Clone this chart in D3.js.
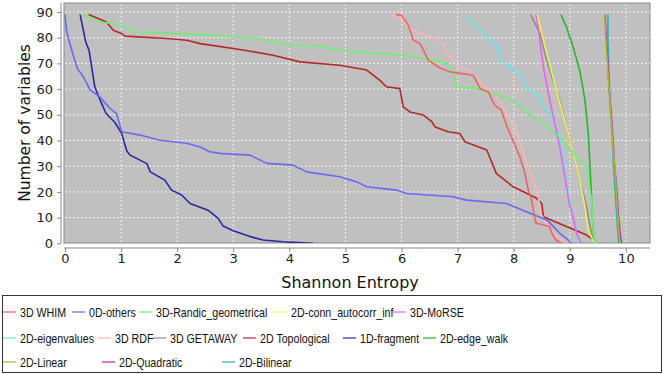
<!DOCTYPE html>
<html><head><meta charset="utf-8">
<script src="https://cdn.jsdelivr.net/npm/d3@7"></script>
<style>html,body{margin:0;padding:0;background:#fff;}svg{display:block;}</style>
</head><body><svg id="c" width="664" height="374"></svg>
<script>
// ---- data ----
const seriesNames = ["3D WHIM","0D-others","3D-Randic_geometrical","2D-conn_autocorr_inf","3D-MoRSE",
  "2D-eigenvalues","3D RDF","3D GETAWAY","2D Topological","1D-fragment","2D-edge_walk",
  "2D-Linear","2D-Quadratic","2D-Bilinear"];
const seriesColors = ["#f06262","#6a6af0","#70ee70","#f0f050","#f060f0","#60eaea","#ffb4b4","#8c8c8c",
  "#b42828","#2828a0","#28b428","#b4b428","#b428b4","#28b4b4"];
const xTicks = [0,1,2,3,4,5,6,7,8,9,10];
const yTicks = [0,10,20,30,40,50,60,70,80,90];

const whim3D = [[5.9,89],[6.0,88.7],[6.12,84.8],[6.21,79],[6.33,77.7],[6.48,71.2],[6.68,68.3],[6.86,66.7],[7.28,65.4],[7.4,60.2],[7.55,58.9],[7.66,53.7],[7.78,51.8],[7.87,46],[7.96,41.4],[8.11,33.7],[8.2,27.2],[8.26,20.7],[8.32,16.8],[8.37,10.3],[8.4,7.8],[8.64,6.5],[8.68,3.9],[8.75,1.3],[8.85,0]];
const others0D = [[0,89],[0.03,82.2],[0.12,75.1],[0.22,68],[0.33,64.7],[0.45,59.6],[0.62,57],[0.8,52.5],[0.92,50.5],[1.01,43.4],[1.34,42.1],[1.69,40.1],[2.17,38.9],[2.41,37.5],[2.58,35.6],[2.76,35],[3.3,34.3],[3.6,31.1],[4.07,30.4],[4.31,27.8],[4.9,25.9],[5.2,23.9],[5.38,22],[5.91,20.7],[6.09,19.4],[6.92,18.1],[7.16,16.8],[7.87,15.5],[8.29,11.7],[8.59,9.1],[8.71,6.5],[8.82,3.9],[8.97,1.3],[9.03,0]];
const randic3D = [[0.33,89],[0.62,86.1],[0.86,85.5],[1.1,84],[1.22,82.3],[1.99,81.6],[2.64,81],[3.0,80.3],[3.48,79.7],[3.71,78],[4.01,77.3],[4.49,76.7],[4.9,75.3],[5.08,74.5],[6.09,73.2],[6.51,71.5],[6.8,70],[6.92,66.7],[6.98,60.9],[7.34,60.2],[7.58,58.3],[7.99,55.7],[8.29,49.9],[8.59,45.3],[8.82,41.4],[9.12,33.7],[9.3,29.8],[9.32,25.9],[9.39,16.8],[9.42,3.9],[9.45,0]];
const connAutocorr2D = [[8.42,89],[8.5,81.6],[8.59,73.8],[8.7,64.7],[8.79,57],[8.94,45.3],[9.06,35],[9.18,24.6],[9.27,14.2],[9.33,5.2],[9.42,0.6],[9.48,0]];
const morse3D = [[8.4,89],[8.45,82],[8.47,78],[8.53,68.6],[8.62,58],[8.72,47.9],[8.82,37.5],[8.92,25],[8.99,15.5],[9.06,10.3],[9.12,3.9],[9.2,0]];
const eigen2D = [[7.13,89],[7.28,85.5],[7.52,80.3],[7.72,76.4],[7.75,71.2],[7.93,68.6],[8.14,65.4],[8.23,60.2],[8.41,58.3],[8.5,54.4],[8.64,50.5],[8.82,41.4],[8.88,33.7],[8.94,24.6],[9.0,16.8],[9.06,10.3],[9.12,3.9],[9.16,0]];
const rdf3D = [[5.85,88.7],[5.97,88],[6.15,83.6],[6.33,81.6],[6.56,80.3],[6.74,77.7],[6.8,74.5],[6.89,71.9],[7.01,68.6],[7.22,67.4],[7.37,63.5],[7.58,58.9],[7.75,55.7],[7.87,50.5],[8.02,45.3],[8.14,37.5],[8.26,29.8],[8.35,24.6],[8.41,20.7],[8.44,18.1],[8.47,12],[8.6,7],[8.75,3],[8.95,0]];
const getaway3D = [[8.3,89],[8.47,81.6],[8.59,71.2],[8.7,63.5],[8.82,55.7],[8.94,45.3],[9.03,37.5],[9.18,24.6],[9.3,14.2],[9.36,6.5],[9.42,1.3],[9.48,0]];
const topological2D = [[0.42,89],[0.74,86.1],[0.86,82.9],[1.01,81.6],[1.07,80.6],[1.81,79.7],[2.17,79],[2.41,77.7],[3.0,75.8],[3.36,74.5],[3.71,73.2],[4.19,70.6],[4.9,69.3],[5.38,67.4],[5.61,63.5],[5.73,60.9],[5.97,60.2],[6.03,53.1],[6.15,51.1],[6.39,49.9],[6.54,47.3],[6.6,45.3],[6.83,43.4],[7.04,42.7],[7.13,39.5],[7.52,36.3],[7.69,27.2],[7.99,22],[8.41,17.5],[8.5,15.5],[8.53,10.3],[8.94,6.5],[9.3,3.2],[9.42,1.3],[9.45,0]];
const fragment1D = [[0.27,89],[0.37,78.3],[0.43,75],[0.53,61],[0.62,56],[0.73,50.6],[0.89,47],[1.01,42.8],[1.1,36],[1.16,34.3],[1.46,31],[1.52,27.8],[1.78,24.6],[1.9,20.7],[2.08,18.8],[2.23,15.5],[2.55,12.9],[2.73,9.7],[2.82,6.7],[3.0,4.9],[3.3,2.6],[3.53,1.3],[3.89,0.6],[4.42,0]];
const edgeWalk2D = [[8.84,89],[8.94,84.2],[9.06,76.4],[9.18,67],[9.27,55.7],[9.33,42.7],[9.36,29.8],[9.39,16.8],[9.42,3.9],[9.45,0]];
const linear2D = [[9.62,89],[9.64,80],[9.67,70],[9.7,60],[9.73,50],[9.76,40],[9.8,30],[9.83,20],[9.86,10],[9.88,3],[9.9,0]];
const quadratic2D = [[9.63,89],[9.65,80],[9.68,70],[9.7,60],[9.74,50],[9.77,40],[9.8,30],[9.84,20],[9.87,10],[9.9,3],[9.92,0]];
const bilinear2D = [[9.68,89],[9.68,80],[9.69,70],[9.71,60],[9.73,50],[9.76,40],[9.78,30],[9.81,20],[9.84,10],[9.86,3],[9.87,0]];

const seriesValues = [whim3D, others0D, randic3D, connAutocorr2D, morse3D, eigen2D, rdf3D, getaway3D,
  topological2D, fragment1D, edgeWalk2D, linear2D, quadratic2D, bilinear2D];

// ---- layout ----
const plot = {left:64, right:650, top:3, bottom:243};
const svg = d3.select("#c");
const x = d3.scaleLinear().domain([0, 10.43]).range([65, 650]);
const y = d3.scaleLinear().domain([0, 93.5]).range([243.3, 3]);

svg.append("rect").attr("x",plot.left).attr("y",plot.top)
  .attr("width",plot.right-plot.left).attr("height",plot.bottom-plot.top)
  .attr("fill","#c0c0c0").attr("stroke","#8a8a8a").attr("stroke-width",1);

// gridlines
const grid = svg.append("g").attr("stroke","#ffffff").attr("stroke-width",0.8).attr("stroke-dasharray","2,2");
xTicks.filter(d=>d>0).forEach(d=>grid.append("line").attr("x1",x(d)).attr("x2",x(d)).attr("y1",plot.top+1).attr("y2",plot.bottom));
yTicks.filter(d=>d>0).forEach(d=>grid.append("line").attr("x1",plot.left+1).attr("x2",plot.right).attr("y1",y(d)).attr("y2",y(d)));

// axes
const tickFont = "13px 'DejaVu Sans', sans-serif";
const xAxis = d3.axisBottom(x).tickValues(xTicks).tickSize(4).tickPadding(2).tickFormat(d3.format("d"));
const gx = svg.append("g").attr("transform","translate(0,248)").call(xAxis);
gx.select(".domain").attr("d",`M${plot.left},0H${plot.right}`).attr("stroke","#888");
gx.selectAll(".tick line").attr("stroke","#888");
gx.selectAll("text").style("font",tickFont).attr("fill","#222");

const yAxis = d3.axisLeft(y).tickValues(yTicks).tickSize(4).tickPadding(4).tickFormat(d3.format("d"));
const gy = svg.append("g").attr("transform","translate(61,0)").call(yAxis);
gy.select(".domain").attr("d",`M0,${plot.top}V${plot.bottom}`).attr("stroke","#888");
gy.selectAll(".tick line").attr("stroke","#888");
gy.selectAll("text").style("font",tickFont).attr("fill","#222");

svg.append("text").attr("x",350).attr("y",288).attr("text-anchor","middle")
  .style("font","16px 'DejaVu Sans', sans-serif").attr("fill","#111").text("Shannon Entropy");
svg.append("text").attr("transform",`translate(30,123) rotate(-90)`).attr("text-anchor","middle")
  .style("font","15.5px 'DejaVu Sans', sans-serif").attr("fill","#111").text("Number of variables");

// lines
const line = d3.line().x(d=>x(d[0])).y(d=>y(d[1]));
svg.append("clipPath").attr("id","pc").append("rect")
  .attr("x",plot.left).attr("y",plot.top).attr("width",plot.right-plot.left).attr("height",plot.bottom-plot.top);
const lg = svg.append("g").attr("clip-path","url(#pc)");
for (let i = seriesValues.length-1; i >= 0; i--) {
  lg.append("path").attr("d", line(seriesValues[i])).attr("fill","none")
    .attr("stroke", seriesColors[i]).attr("stroke-width",1.6).attr("stroke-linejoin","round");
}

// legend
svg.append("rect").attr("x",2.5).attr("y",295.5).attr("width",659).attr("height",77)
  .attr("fill","#fff").attr("stroke","#333").attr("stroke-width",1);
const legendRows = [312, 338, 362];
const legendPos = [[3,0],[72,0],[139,0],[274,0],[393,0],
  [3,1],[98,1],[153,1],[243,1],[343,1],[423,1],
  [3,2],[102,2],[222,2]];
seriesNames.forEach((name,i)=>{
  const [lx,row] = legendPos[i];
  const ly = legendRows[row];
  svg.append("line").attr("x1",lx).attr("x2",lx+13).attr("y1",ly).attr("y2",ly)
    .attr("stroke",seriesColors[i]).attr("stroke-width",1.2);
  svg.append("text").attr("transform",`translate(${lx+17},${ly}) scale(0.82,1)`).attr("dy","0.35em")
    .style("font","13px 'Liberation Sans', Arial, sans-serif")
    .attr("fill","#111").text(name);
});
</script></body></html>
